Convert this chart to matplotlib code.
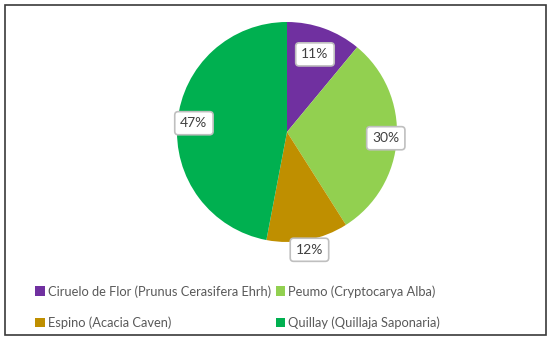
import matplotlib
matplotlib.use("Agg")
import matplotlib.pyplot as plt
from matplotlib.patches import Rectangle, Patch
import numpy as np

categories = ["Ciruelo de Flor (Prunus Cerasifera Ehrh)", "Peumo (Cryptocarya Alba)",
              "Espino (Acacia Caven)", "Quillay (Quillaja Saponaria)"]
values = [11, 30, 12, 47]
labels = ["11%", "30%", "12%", "47%"]
colors = ["#7030A0", "#92D050", "#BF8F00", "#00B050"]
label_dist = [0.75, 0.90, 1.09, 0.85]

plt.rcParams['font.family'] = ['Lato', 'DejaVu Sans']

W, H = 550, 340
fig = plt.figure(figsize=(5.5, 3.4), dpi=100)
fig.patch.set_facecolor("white")

cx, cy, r = 287, 132, 110
ax = fig.add_axes([(cx - r) / W, (H - cy - r) / H, 2 * r / W, 2 * r / H])
wedges, _ = ax.pie(values, colors=colors, startangle=90, counterclock=False,
                   radius=1.0, wedgeprops=dict(linewidth=0))
ax.set_xlim(-1, 1)
ax.set_ylim(-1, 1)
ax.set_aspect('equal')
ax.axis('off')
for w in wedges:
    w.set_clip_on(False)

for w, lab, d in zip(wedges, labels, label_dist):
    ang = np.deg2rad((w.theta1 + w.theta2) / 2)
    ax.text(d * np.cos(ang), d * np.sin(ang), lab, ha='center', va='center',
            fontsize=10, color='#404040', clip_on=False, zorder=5,
            bbox=dict(boxstyle='round,pad=0.4,rounding_size=0.25', fc='white',
                      ec='#BFBFBF', lw=1.2))

order = [0, 2, 1, 3]
handles = [Patch(facecolor=colors[i], edgecolor='none') for i in order]
leg_labels = [categories[i] for i in order]
fig.legend(handles, leg_labels, ncol=2, loc='upper left',
           bbox_to_anchor=(35 / W, 1 - 285 / H), frameon=False,
           fontsize=9.3, labelcolor='#595959', handlelength=0.75, handleheight=0.75,
           handletextpad=0.25, columnspacing=0.35, labelspacing=1.45,
           borderpad=0, borderaxespad=0)

fig.add_artist(Rectangle((4.5 / W, 5 / H), 1 - 9 / W, 1 - 10 / H,
                         transform=fig.transFigure, fill=False,
                         ec='#3a3a3a', lw=1.2))

fig.savefig("out.png", dpi=100)
